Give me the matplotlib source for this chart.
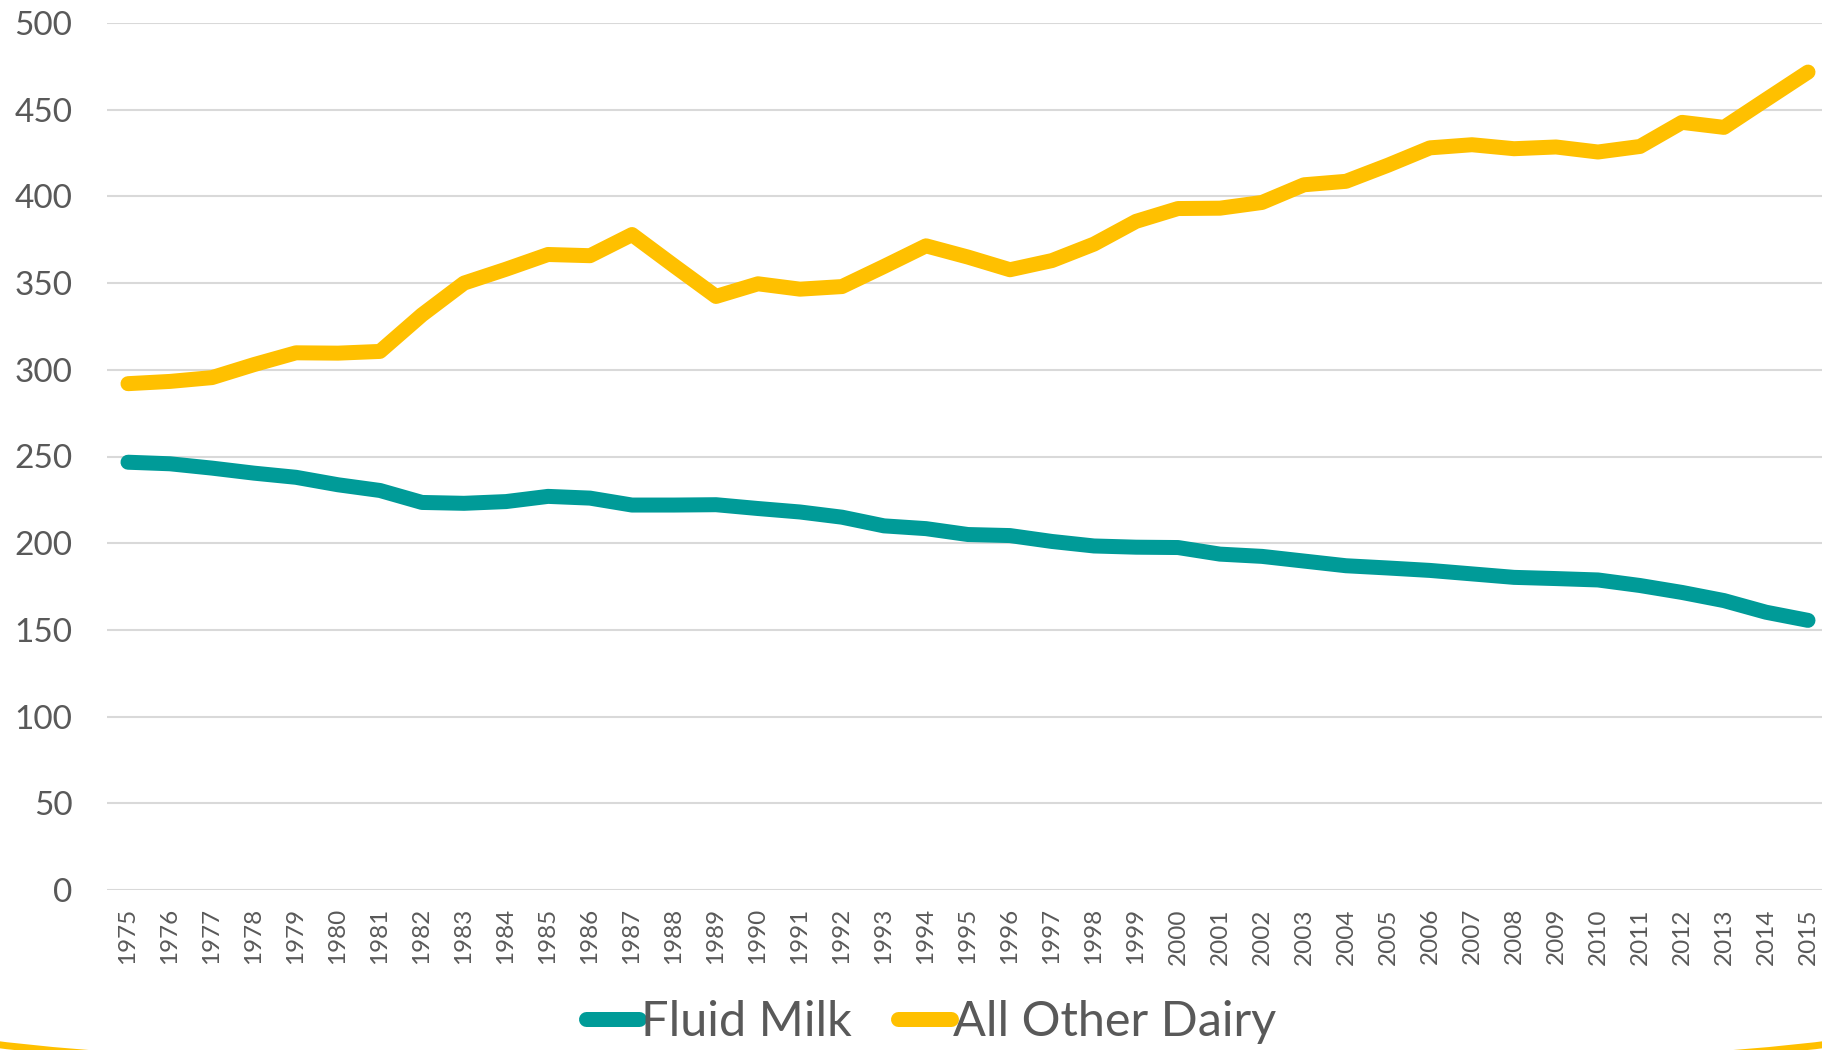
import numpy as np
import matplotlib.pyplot as plt
from matplotlib.patches import Arc

plt.rcParams['font.family'] = ['Lato', 'DejaVu Sans']

years = [str(y) for y in range(1975, 2016)]

# pounds per capita
fluid_milk = [246.7, 245.8, 243.3, 240.4, 238.0, 233.7, 230.4, 223.5, 223.0, 224.0,
              227.0, 226.0, 222.0, 222.0, 222.2, 220.0, 218.0, 215.0, 210.0, 208.4,
              205.0, 204.4, 201.0, 198.4, 197.7, 197.5, 193.7, 192.4, 189.7, 187.0,
              185.7, 184.3, 182.3, 180.3, 179.6, 178.8, 175.6, 171.6, 166.9, 160.2,
              155.5]
other_dairy = [292.0, 293.3, 295.5, 303.0, 309.8, 309.6, 310.6, 331.7, 350.0, 358.0,
               366.5, 365.8, 378.0, 360.0, 342.3, 349.6, 346.5, 348.0, 359.6, 371.5,
               365.0, 357.7, 363.0, 372.5, 385.6, 393.0, 393.2, 396.5, 406.7, 408.7,
               418.0, 428.0, 429.8, 427.5, 428.5, 425.6, 428.8, 442.7, 439.8, 455.8,
               471.7]

teal = '#009B98'
gold = '#FFC000'
grey_text = '#595959'

fig = plt.figure(figsize=(18.22, 10.5), dpi=100)
ax = fig.add_axes([107 / 1822, 160 / 1050, 1722 / 1822, 867 / 1050])

x = np.arange(len(years))
ax.plot(x, fluid_milk, color=teal, lw=10.8, solid_capstyle='round',
        solid_joinstyle='round', label='Fluid Milk')
ax.plot(x, other_dairy, color=gold, lw=10.8, solid_capstyle='round',
        solid_joinstyle='round', label='All Other Dairy')

ax.set_xlim(-0.5, len(years) - 0.5)
ax.set_ylim(0, 500)
ax.set_yticks(range(0, 501, 50))
ax.set_xticks(x)
ax.set_xticklabels(years, rotation=90, fontsize=17.5, color=grey_text)
ax.tick_params(axis='y', labelsize=24, labelcolor=grey_text, length=0, pad=25)
ax.tick_params(axis='x', length=0, pad=13)
ax.grid(axis='y', color='#D9D9D9', lw=1.5)
ax.set_axisbelow(True)
for s in ax.spines.values():
    s.set_visible(False)

fig.legend(loc='center', bbox_to_anchor=(0.511, 0.027), ncol=2, frameon=False,
           fontsize=35, labelcolor=grey_text, handlelength=1.1, handletextpad=0.03,
           columnspacing=0.95)

# decorative arc peeking in at the bottom corners
fig.patches.append(Arc((0.5, 0.0267), 2000 / 1822, 111 / 1050, theta1=180, theta2=360,
                       transform=fig.transFigure, color=gold, lw=5))

fig.savefig('out.png', dpi=100)
